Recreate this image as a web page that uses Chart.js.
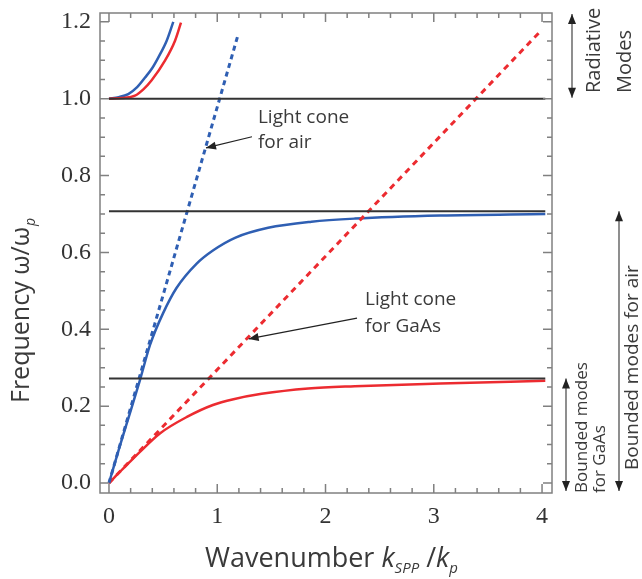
<!DOCTYPE html>
<html>
<head>
<meta charset="utf-8">
<script src="https://cdn.jsdelivr.net/npm/chart.js@4.4.0/dist/chart.umd.min.js"></script>
<style>
  html, body { margin: 0; padding: 0; background: #fff; }
</style>
</head>
<body>
<canvas id="spp" width="642" height="579"></canvas>
<script>
// ===== tick labels =====
const xTicks = [0, 1, 2, 3, 4];
const yTicks = [0, 0.2, 0.4, 0.6, 0.8, 1.0, 1.2];

// ===== SPP dispersion, air (blue) =====
const airK = [0, 0.10, 0.20, 0.286, 0.38, 0.50, 0.625, 0.81, 0.96, 1.164, 1.47, 1.87, 2.27, 3.06, 4.03];
const airW = [0, 0.096, 0.188, 0.268, 0.360, 0.442, 0.508, 0.571, 0.605, 0.638, 0.664, 0.680, 0.688, 0.696, 0.700];

// ===== SPP dispersion, GaAs (red) =====
const gaasK = [0, 0.10, 0.20, 0.286, 0.47, 0.72, 0.96, 1.15, 1.41, 1.84, 2.27, 3.06, 4.03];
const gaasW = [0, 0.029, 0.057, 0.081, 0.129, 0.172, 0.203, 0.218, 0.232, 0.246, 0.252, 0.259, 0.266];

// ===== upper (radiative) branches =====
const airUpK = [0, 0.09, 0.178, 0.26, 0.333, 0.40, 0.455, 0.533, 0.594];
const airUpW = [1.0, 1.004, 1.012, 1.030, 1.055, 1.080, 1.107, 1.151, 1.200];
const gaasUpK = [0, 0.12, 0.24, 0.32, 0.394, 0.517, 0.61, 0.665];
const gaasUpW = [1.0, 1.002, 1.008, 1.025, 1.048, 1.099, 1.151, 1.198];

// ===== light cones =====
const airConeK = [0, 1.194];
const airConeW = [0, 1.168];
const gaasConeK = [0, 4.0];
const gaasConeW = [0, 1.18];

// ===== asymptotes (ω = 1, ω_sp air, ω_sp GaAs) =====
const levelK = [0, 4.03];
const levels = [1.0, 0.707, 0.272];

const BLUE = "#2f5fb3";
const RED = "#ec2b30";
const INK = "#3a3a3a";

function pts(xs, ys) {
    return xs.map((v, i) => ({ x: v, y: ys[i] }));
}

function curve(xs, ys, color, dash) {
    return {
        data: pts(xs, ys),
        borderColor: color,
        borderWidth: dash ? 3 : 2.5,
        borderDash: dash || [],
        pointRadius: 0,
        showLine: true,
        fill: false,
        cubicInterpolationMode: "monotone",
    };
}

const datasets = [];
levels.forEach(l => {
    datasets.push({
        data: pts(levelK, levelK.map(() => l)),
        borderColor: "#333", borderWidth: 2, pointRadius: 0, showLine: true,
    });
});
datasets.push(curve(airConeK, airConeW, BLUE, [5, 4]));
datasets.push(curve(gaasConeK, gaasConeW, RED, [6, 5]));
datasets.push(curve(gaasK, gaasW, RED));
datasets.push(curve(airK, airW, BLUE));
datasets.push(curve(gaasUpK, gaasUpW, RED));
datasets.push(curve(airUpK, airUpW, BLUE));

// ------------------------ helpers ------------------------
function arrowHead(ctx, x1, y1, x2, y2) {
    const a = Math.atan2(y2 - y1, x2 - x1);
    const len = 10, w = 4;
    ctx.beginPath();
    ctx.moveTo(x2, y2);
    ctx.lineTo(x2 - len * Math.cos(a) + w * Math.sin(a), y2 - len * Math.sin(a) - w * Math.cos(a));
    ctx.lineTo(x2 - len * Math.cos(a) - w * Math.sin(a), y2 - len * Math.sin(a) + w * Math.cos(a));
    ctx.closePath();
    ctx.fill();
}

function arrow(ctx, x1, y1, x2, y2, both) {
    ctx.beginPath();
    ctx.moveTo(x1, y1);
    ctx.lineTo(x2, y2);
    ctx.stroke();
    arrowHead(ctx, x1, y1, x2, y2);
    if (both) arrowHead(ctx, x2, y2, x1, y1);
}

function vText(ctx, lines, bx, by, font) {
    ctx.save();
    ctx.font = font;
    ctx.textAlign = "left";
    ctx.textBaseline = "alphabetic";
    lines.forEach(([t, dx]) => {
        ctx.save();
        ctx.translate(bx + dx, by);
        ctx.rotate(-Math.PI / 2);
        ctx.fillText(t, 0, 0);
        ctx.restore();
    });
    ctx.restore();
}

// ------------------------ frame, ticks, notes ------------------------
const decor = {
    id: "decor",
    afterDatasetsDraw(chart) {
        const { ctx, chartArea: a, scales: { x, y } } = chart;
        ctx.save();

        // frame + inward ticks
        ctx.strokeStyle = "#808080";
        ctx.lineWidth = 1.5;
        ctx.strokeRect(a.left, a.top, a.right - a.left, a.bottom - a.top);
        ctx.beginPath();
        for (let i = 0; i <= 20; i++) {
            const px = x.getPixelForValue(i * 0.2);
            const len = i % 5 === 0 ? 9 : 5;
            ctx.moveTo(px, a.bottom); ctx.lineTo(px, a.bottom - len);
            ctx.moveTo(px, a.top); ctx.lineTo(px, a.top + len);
        }
        for (let i = 0; i <= 24; i++) {
            const py = y.getPixelForValue(i * 0.05);
            const len = i % 4 === 0 ? 9 : 5;
            ctx.moveTo(a.left, py); ctx.lineTo(a.left + len, py);
            ctx.moveTo(a.right, py); ctx.lineTo(a.right - len, py);
        }
        ctx.stroke();

        // light cone labels
        ctx.fillStyle = INK;
        ctx.strokeStyle = "#222";
        ctx.lineWidth = 1.2;
        ctx.font = "19px 'Open Sans'";
        ctx.textBaseline = "middle";
        ctx.fillText("Light cone", x.getPixelForValue(1.376), y.getPixelForValue(0.950));
        ctx.fillText("for air", x.getPixelForValue(1.376), y.getPixelForValue(0.885));
        ctx.fillText("Light cone", x.getPixelForValue(2.365), y.getPixelForValue(0.476));
        ctx.fillText("for GaAs", x.getPixelForValue(2.365), y.getPixelForValue(0.406));
        ctx.fillStyle = "#222";
        arrow(ctx, x.getPixelForValue(1.321), y.getPixelForValue(0.901),
            x.getPixelForValue(0.896), y.getPixelForValue(0.872));
        arrow(ctx, x.getPixelForValue(2.291), y.getPixelForValue(0.429),
            x.getPixelForValue(1.29), y.getPixelForValue(0.375));

        // mode ranges on the right
        ctx.strokeStyle = "#444";
        ctx.fillStyle = "#222";
        arrow(ctx, 572, a.top + 1, 572, y.getPixelForValue(1.0) - 1, true);
        arrow(ctx, 566, y.getPixelForValue(0.272), 566, a.bottom - 2, true);
        arrow(ctx, 619, y.getPixelForValue(0.707), 619, a.bottom - 2, true);
        ctx.fillStyle = INK;
        vText(ctx, [["Radiative", 0], ["Modes", 31]], 600, 93, "20px 'Open Sans'");
        vText(ctx, [["Bounded modes", 0], ["for GaAs", 18]], 587, 493, "17px 'Open Sans'");
        vText(ctx, [["Bounded modes for air", 0]], 638, 470, "19px 'Open Sans'");

        // x title
        ctx.textBaseline = "alphabetic";
        let cx = 205;
        const by = 567;
        const seg = (t, font, dy) => {
            ctx.font = font;
            ctx.fillText(t, cx, by + dy);
            cx += ctx.measureText(t).width;
        };
        seg("Wavenumber ", "27px 'Open Sans'", 0);
        seg("k", "italic 27px 'Open Sans'", 0);
        seg("SPP", "italic 15px 'Open Sans'", 6);
        seg(" /", "27px 'Open Sans'", 0);
        seg("k", "italic 27px 'Open Sans'", 0);
        seg("p", "italic 15px 'Open Sans'", 6);

        // y title
        ctx.save();
        ctx.translate(29, 403);
        ctx.rotate(-Math.PI / 2);
        ctx.font = "25px 'Open Sans'";
        ctx.fillText("Frequency ω/ω", 0, 0);
        const w = ctx.measureText("Frequency ω/ω").width;
        ctx.font = "italic 14px 'Open Sans'";
        ctx.fillText("p", w + 1, 6);
        ctx.restore();

        ctx.restore();
    },
};

// ------------------------ chart ------------------------
const spp = new Chart(document.getElementById("spp"), {
    type: "scatter",
    data: { datasets },
    options: {
        responsive: false,
        animation: false,
        layout: { padding: { left: 0, top: 13, right: 90, bottom: 0 } },
        plugins: { legend: { display: false }, tooltip: { enabled: false } },
        scales: {
            x: {
                type: "linear",
                min: -0.083,
                max: 4.092,
                afterBuildTicks: s => { s.ticks = xTicks.map(v => ({ value: v })); },
                afterFit: s => { s.height = 86; s.paddingLeft = 0; s.paddingRight = 0; },
                grid: { display: false, drawTicks: false },
                border: { display: false },
                ticks: {
                    padding: 9,
                    color: "#333",
                    font: { family: "'Liberation Serif'", size: 24 },
                    callback: v => String(v),
                },
            },
            y: {
                type: "linear",
                min: -0.026,
                max: 1.223,
                afterBuildTicks: s => { s.ticks = yTicks.map(v => ({ value: v })); },
                afterFit: s => { s.width = 100; s.paddingTop = 0; s.paddingBottom = 0; },
                grid: { display: false, drawTicks: false },
                border: { display: false },
                ticks: {
                    padding: 9,
                    color: "#333",
                    font: { family: "'Liberation Serif'", size: 24 },
                    callback: v => v.toFixed(1),
                },
            },
        },
    },
    plugins: [decor],
});
</script>
</body>
</html>
